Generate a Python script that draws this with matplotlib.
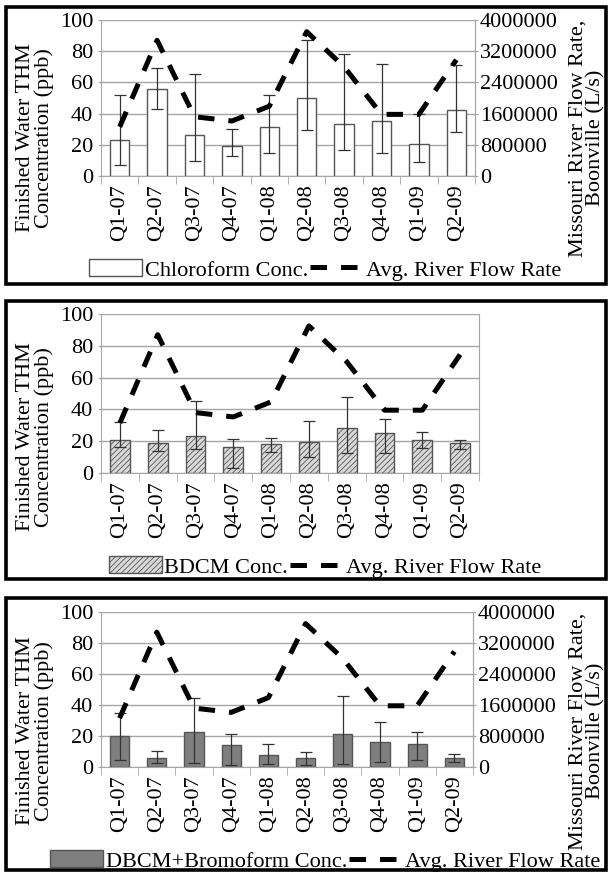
import numpy as np
import matplotlib.pyplot as plt
from matplotlib.patches import Rectangle

plt.rcParams['font.family'] = ['Liberation Serif', 'DejaVu Serif']
plt.rcParams['hatch.color'] = '#555555'
plt.rcParams['hatch.linewidth'] = 0.6

quarters = ['Q1-07', 'Q2-07', 'Q3-07', 'Q4-07', 'Q1-08',
            'Q2-08', 'Q3-08', 'Q4-08', 'Q1-09', 'Q2-09']

# average river flow rate, L/s
flow = [1260000, 3480000, 1520000, 1410000, 1790000,
        3700000, 2800000, 1580000, 1580000, 2980000]
flow_ticks = [0, 800000, 1600000, 2400000, 3200000, 4000000]

chloro = [23, 55.5, 26.5, 19, 31.5, 50, 33.5, 35, 20.5, 42.5]
chloro_lo = [7, 43, 9.5, 13, 15, 29.5, 16.5, 15, 9, 28]
chloro_hi = [52, 69, 65.5, 30, 52, 87, 78, 71.5, 40, 71]

bdcm = [21, 19, 23, 16.5, 18, 19.5, 28, 25, 20.5, 19]
bdcm_lo = [16.5, 14, 15, 3, 13, 10, 12.5, 12.5, 16, 15]
bdcm_hi = [32, 27, 45, 21.5, 22, 33, 48, 34, 25.5, 20.5]

dbcm = [20, 6, 22.5, 14, 7.5, 5.5, 21, 16, 15, 6]
dbcm_lo = [4.5, 2.5, 2.5, 1, 2, 1, 2, 3, 4.5, 3]
dbcm_hi = [35, 10.5, 44.5, 21, 15, 9.5, 46, 29, 22.5, 8.5]

W, H = 611, 872
fig = plt.figure(figsize=(W / 100, H / 100), dpi=100)

grid_c = '#a6a6a6'
fs = 16


def px_axes(x0, x1, ytop, ybot):
    return fig.add_axes([x0 / W, 1 - ybot / H, (x1 - x0) / W, (ybot - ytop) / H])


def panel(box, area, vals, lo, hi, bar_kw, label, show_right, label_y, leg_y):
    ax = px_axes(*area)
    x = np.arange(len(quarters))
    v = np.array(vals)
    yerr = [v - np.array(lo), np.array(hi) - v]
    bars = ax.bar(x, v, width=0.52, edgecolor='#555555', linewidth=1.0,
                  label=label, zorder=3, **bar_kw)
    ax.errorbar(x, v, yerr=yerr, fmt='none', ecolor='#333333',
                elinewidth=0.9, capsize=4, capthick=0.9, zorder=4)
    ax.set_ylim(0, 100)
    ax.set_xlim(-0.5, len(quarters) - 0.5)
    ax.set_yticks(range(0, 101, 20))
    ax.yaxis.grid(True, color=grid_c, lw=1)
    ax.set_axisbelow(True)
    ax.set_xticks(x)
    ax.set_xticklabels(quarters, rotation=90, fontsize=fs)
    ax.set_xticks(np.arange(-0.5, len(quarters), 1), minor=True)
    ax.tick_params(axis='x', which='major', length=0, pad=6)
    ax.tick_params(axis='x', which='minor', length=6, color=grid_c, direction='out')
    ax.tick_params(axis='y', labelsize=fs, length=5, color=grid_c,
                   direction='inout', pad=3)
    for s in ['left', 'bottom', 'right']:
        ax.spines[s].set_color(grid_c)
    ax.spines['top'].set_visible(False)
    fig.text(35 / W, 1 - label_y / H, 'Finished Water THM\nConcentration (ppb)',
             rotation=90, ha='center', va='center', fontsize=fs, linespacing=0.95)

    ax2 = ax.twinx()
    line, = ax2.plot(x, flow, color='black', lw=3.6, ls=(0, (3.3, 2.8)),
                     label='Avg. River Flow Rate', zorder=5)
    ax2.set_ylim(0, 4000000)
    ax2.set_yticks(flow_ticks)
    for s in ['left', 'bottom', 'top']:
        ax2.spines[s].set_visible(False)
    ax2.spines['right'].set_color(grid_c)
    if show_right:
        ax2.set_yticklabels([str(t) for t in flow_ticks])
        ax2.tick_params(axis='y', labelsize=fs, length=5, color=grid_c,
                        direction='inout', pad=1)
        fig.text(587 / W, 1 - label_y / H, 'Missouri River Flow Rate,\nBoonville (L/s)',
                 rotation=90, ha='center', va='center', fontsize=fs, linespacing=0.95)
    else:
        ax2.tick_params(axis='y', length=0, labelright=False)

    fig.legend([bars, line], [label, 'Avg. River Flow Rate'], ncol=2,
               loc='center', bbox_to_anchor=(325 / W, 1 - leg_y / H),
               frameon=False, fontsize=fs, handlelength=2.4, handleheight=0.8,
               columnspacing=0.1, handletextpad=0.1, borderaxespad=0)

    bx0, bx1, by0, by1 = box
    fig.add_artist(Rectangle((bx0 / W, 1 - by1 / H), (bx1 - bx0) / W, (by1 - by0) / H,
                             transform=fig.transFigure, fill=False,
                             edgecolor='black', lw=2.6))


panel((6, 606, 7, 284), (101, 475, 20, 176), chloro, chloro_lo, chloro_hi,
      dict(color='white'), 'Chloroform Conc.', True, 138, 270)
panel((6, 606, 301, 579), (101, 479, 314, 473), bdcm, bdcm_lo, bdcm_hi,
      dict(color='#d9d9d9', hatch='//////'), 'BDCM Conc.', False, 437, 567)
panel((6, 606, 598, 870), (101, 473, 612, 767), dbcm, dbcm_lo, dbcm_hi,
      dict(color='#7f7f7f'), 'DBCM+Bromoform Conc.', True, 731, 861)

fig.savefig('out.png', dpi=100)
